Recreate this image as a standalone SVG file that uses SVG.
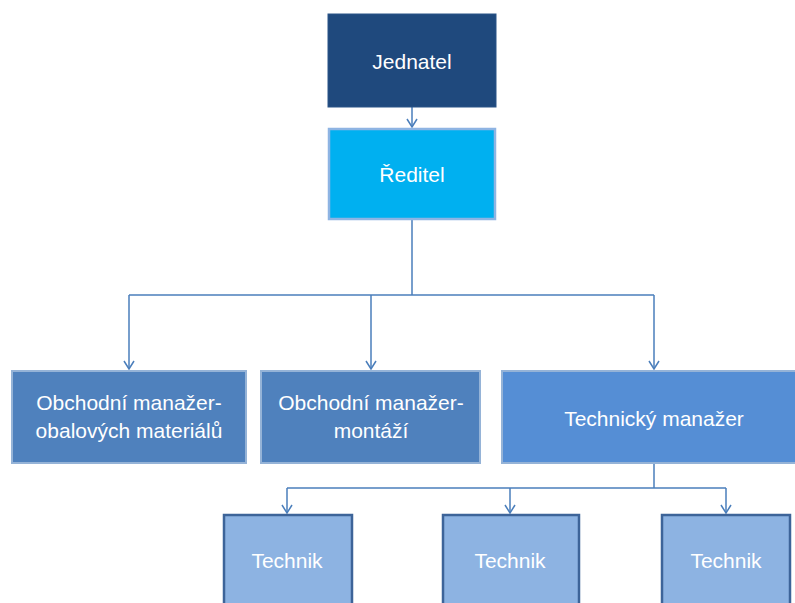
<svg xmlns="http://www.w3.org/2000/svg" width="795" height="603" viewBox="0 0 795 603">
  <style>
    .lbl { font-family: "Liberation Sans", Arial, sans-serif; font-size: 21px; fill: #ffffff; text-anchor: middle; }
    .conn { fill: none; stroke: #4A7EBB; stroke-width: 1.5; }
    .mgr { fill: #4F81BD; stroke: #95B3D7; stroke-width: 2; }
  </style>
  <defs>
    <!-- open V arrowhead, drawn along +x so orient="auto" turns it with the line -->
    <marker id="arrow" viewBox="0 0 10 12" refX="9" refY="6" markerWidth="10" markerHeight="12" markerUnits="userSpaceOnUse" orient="auto">
      <path d="M1,1 L9,6 L1,11" fill="none" stroke="#4A7EBB" stroke-width="1.5"/>
    </marker>
  </defs>

  <!-- connectors -->
  <g id="connectors" class="conn">
    <path d="M412,107 V127" marker-end="url(#arrow)"/>
    <path d="M412,220 V295"/>
    <path d="M129,295 H654"/>
    <path d="M129,295 V369" marker-end="url(#arrow)"/>
    <path d="M371,295 V369" marker-end="url(#arrow)"/>
    <path d="M654,295 V369" marker-end="url(#arrow)"/>
    <path d="M654,463 V488"/>
    <path d="M287,488 H726"/>
    <path d="M287,488 V513" marker-end="url(#arrow)"/>
    <path d="M510,488 V513" marker-end="url(#arrow)"/>
    <path d="M726,488 V513" marker-end="url(#arrow)"/>
  </g>

  <!-- nodes -->
  <g id="jednatel">
    <rect x="328" y="14" width="168" height="93" fill="#1F497D" stroke="#2A5488" stroke-width="1"/>
    <text class="lbl" x="412" y="69">Jednatel</text>
  </g>
  <g id="reditel">
    <rect x="329" y="129" width="166" height="90" fill="#00B0F0" stroke="#8EB4E3" stroke-width="2.5"/>
    <text class="lbl" x="412" y="182">Ředitel</text>
  </g>
  <g id="obchodni-obaly">
    <rect class="mgr" x="12" y="371" width="234" height="92"/>
    <text class="lbl" x="129" y="410">Obchodní manažer-</text>
    <text class="lbl" x="129" y="438">obalových materiálů</text>
  </g>
  <g id="obchodni-montaze">
    <rect class="mgr" x="261" y="371" width="219" height="92"/>
    <text class="lbl" x="371" y="410">Obchodní manažer-</text>
    <text class="lbl" x="371" y="438">montáží</text>
  </g>
  <g id="technicky-manazer">
    <rect x="502" y="371" width="300" height="92" fill="#558ED5" stroke="#95B3D7" stroke-width="2"/>
    <text class="lbl" x="654" y="426">Technický manažer</text>
  </g>
  <g id="technik-1">
    <rect x="224" y="515" width="128" height="100" fill="#8DB3E2" stroke="#3D6499" stroke-width="2.5"/>
    <text class="lbl" x="287" y="568">Technik</text>
  </g>
  <g id="technik-2">
    <rect x="443" y="515" width="136" height="100" fill="#8DB3E2" stroke="#3D6499" stroke-width="2.5"/>
    <text class="lbl" x="510" y="568">Technik</text>
  </g>
  <g id="technik-3">
    <rect x="662" y="515" width="128" height="100" fill="#8DB3E2" stroke="#3D6499" stroke-width="2.5"/>
    <text class="lbl" x="726" y="568">Technik</text>
  </g>
</svg>
